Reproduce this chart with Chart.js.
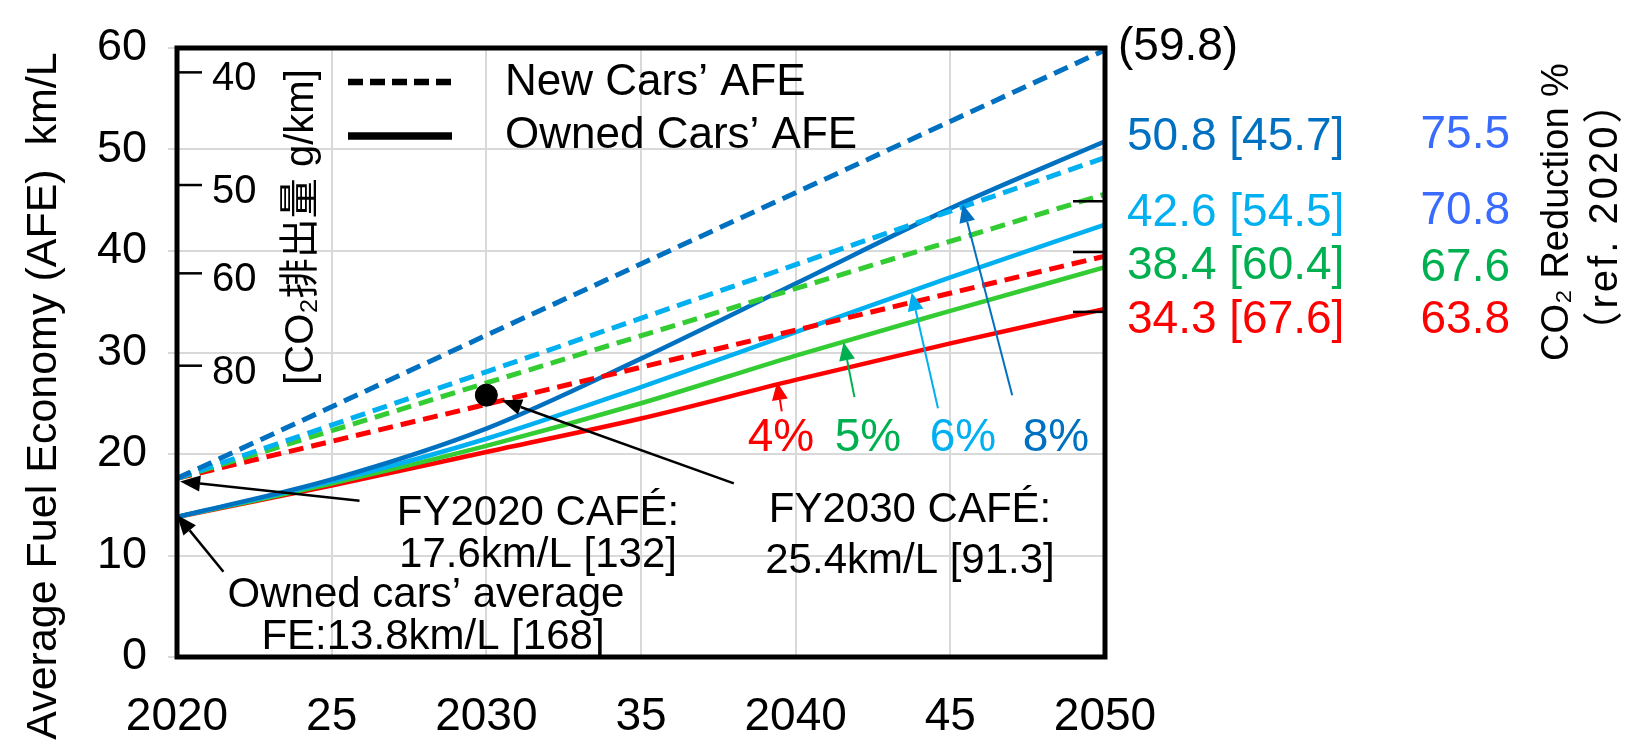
<!DOCTYPE html>
<html>
<head>
<meta charset="utf-8">
<script src="https://cdn.jsdelivr.net/npm/chart.js"></script>
<style>
body { margin: 0; background: #fff; }
canvas { display: block; }
</style>
</head>
<body>
<canvas id="chart-1" width="1633" height="749"></canvas>
<script>
// ---- data ----
var years = [2020, 2025, 2030, 2035, 2040, 2045, 2050];
var new_years = [2020, 2030, 2050];
var x_tick_labels = ['2020', '25', '2030', '35', '2040', '45', '2050'];

// Owned cars' AFE (solid lines), km/L
var owned_8 = [13.8, 17.5, 22.5, 29.4, 36.8, 44.2, 50.8];
var owned_6 = [13.8, 17.3, 21.5, 26.6, 32.0, 37.4, 42.6];
var owned_5 = [13.8, 17.1, 20.8, 25.0, 29.7, 34.1, 38.4];
var owned_4 = [13.8, 16.9, 20.2, 23.5, 27.3, 30.9, 34.3];

// New cars' AFE (dashed lines), km/L
var new_8 = [17.6, 31.7, 59.8];
var new_6 = [17.6, 28.1, 49.2];
var new_5 = [17.6, 27.0, 45.6];
var new_4 = [17.6, 24.9, 39.5];

// FY2030 CAFE point
var cafe_year = [2030];
var cafe_value = [25.8];

// inner CO2 g/km axis: label and the km/L level where it sits
var co2_tick_labels = ['40', '50', '60', '80'];
var co2_tick_at = [57.6, 46.5, 37.8, 28.7];
var right_tick_at = [44.9, 39.9, 34.0];

var end_labels = ['50.8 [45.7]', '42.6 [54.5]', '38.4 [60.4]', '34.3 [67.6]'];
var reduction_labels = ['75.5', '70.8', '67.6', '63.8'];
var rate_labels = ['8%', '6%', '5%', '4%'];

// ---- styles ----
var FONT = "'Liberation Sans', Arial, 'Noto Sans CJK JP', sans-serif";
var c_dark = '#0070C0', c_light = '#00B0F0', c_green = '#33CC33', c_red = '#FF0000';
var c_green_txt = '#00B050', c_blue_txt = '#3A6BFF';
var line_colors = [c_dark, c_light, c_green, c_red];
var text_colors = [c_dark, c_light, c_green_txt, c_red];

function pts(xs, ys) {
    var out = [];
    for (let i = 0; i < xs.length; i++) out.push({ x: xs[i], y: ys[i] });
    return out;
}

function dashed(data, color) {
    return { data: data, borderColor: color, backgroundColor: color, borderWidth: 5,
        borderDash: [15, 8], pointRadius: 0, fill: false, tension: 0 };
}
function solid(data, color) {
    return { data: data, borderColor: color, backgroundColor: color, borderWidth: 4.5,
        pointRadius: 0, fill: false, cubicInterpolationMode: 'monotone' };
}

// ---- drawing helpers for annotations ----
function txt(ctx, s, x, y, size, color, align) {
    ctx.font = size + 'px ' + FONT;
    ctx.fillStyle = color;
    ctx.textAlign = align || 'left';
    ctx.textBaseline = 'alphabetic';
    ctx.fillText(s, x, y);
}
function rot_txt(ctx, s, x, y, size, color, spacing) {
    ctx.save();
    ctx.translate(x, y);
    ctx.rotate(-Math.PI / 2);
    ctx.letterSpacing = spacing || '0px';
    txt(ctx, s, 0, 0, size, color, 'center');
    ctx.restore();
}
function arrow(ctx, x1, y1, x2, y2, color, width, head, half) {
    var a = Math.atan2(y2 - y1, x2 - x1);
    var bx = x2 - head * Math.cos(a), by = y2 - head * Math.sin(a);
    ctx.strokeStyle = color;
    ctx.fillStyle = color;
    ctx.lineWidth = width;
    ctx.setLineDash([]);
    ctx.beginPath();
    ctx.moveTo(x1, y1);
    ctx.lineTo(bx, by);
    ctx.stroke();
    ctx.beginPath();
    ctx.moveTo(x2, y2);
    ctx.lineTo(bx + half * Math.sin(a), by - half * Math.cos(a));
    ctx.lineTo(bx - half * Math.sin(a), by + half * Math.cos(a));
    ctx.closePath();
    ctx.fill();
}

// arrows given in chart units (year, km/L)
var black_arrows = [
    [2025.9, 15.4, 2020.1, 17.3],
    [2021.5, 8.4, 2020.0, 14.0],
    [2038.0, 17.1, 2030.5, 25.3]
];
var rate_arrows = [
    [2047.0, 25.8, 2045.4, 44.6],
    [2044.6, 24.5, 2043.75, 35.9],
    [2041.9, 25.6, 2041.55, 31.0],
    [2039.55, 24.2, 2039.4, 27.1]
];

var annotations = {
    id: 'annotations',
    afterDatasetsDraw: function(chart) {
        var ctx = chart.ctx;
        var xs = chart.scales.x, ys = chart.scales.y;
        var a = chart.chartArea;
        ctx.save();

        // frame
        ctx.strokeStyle = '#000';
        ctx.lineWidth = 5;
        ctx.setLineDash([]);
        ctx.strokeRect(a.left, a.top, a.right - a.left, a.bottom - a.top);

        // inner CO2 axis
        ctx.lineWidth = 2.5;
        for (let i = 0; i < co2_tick_labels.length; i++) {
            var ty = ys.getPixelForValue(co2_tick_at[i]);
            ctx.beginPath();
            ctx.moveTo(a.left, ty);
            ctx.lineTo(a.left + 25, ty);
            ctx.stroke();
            txt(ctx, co2_tick_labels[i], a.left + 35, ty + 18, 40, '#000');
        }
        rot_txt(ctx, '[CO\u2082排出量 g/km]', 313, 227, 40, '#000');

        // small ticks at right edge
        for (let i = 0; i < right_tick_at.length; i++) {
            var ry = ys.getPixelForValue(right_tick_at[i]);
            ctx.strokeStyle = '#000';
            ctx.beginPath();
            ctx.moveTo(a.right - 32, ry);
            ctx.lineTo(a.right, ry);
            ctx.stroke();
        }

        // legend
        ctx.strokeStyle = '#000';
        ctx.lineWidth = 6.5;
        ctx.setLineDash([15, 7]);
        ctx.beginPath();
        ctx.moveTo(348, 82);
        ctx.lineTo(452, 82);
        ctx.stroke();
        ctx.setLineDash([]);
        ctx.lineWidth = 7.5;
        ctx.beginPath();
        ctx.moveTo(348, 136);
        ctx.lineTo(452, 136);
        ctx.stroke();
        txt(ctx, 'New Cars\u2019 AFE', 505, 95, 44, '#000');
        txt(ctx, 'Owned Cars\u2019 AFE', 505, 148, 44, '#000');

        // arrows
        black_arrows.forEach(function(r) {
            arrow(ctx, xs.getPixelForValue(r[0]), ys.getPixelForValue(r[1]),
                xs.getPixelForValue(r[2]), ys.getPixelForValue(r[3]), '#000', 2.5, 20, 8);
        });
        rate_arrows.forEach(function(r, i) {
            arrow(ctx, xs.getPixelForValue(r[0]), ys.getPixelForValue(r[1]),
                xs.getPixelForValue(r[2]), ys.getPixelForValue(r[3]), text_colors[i], 2, 18, 8);
        });

        // rate labels
        var rate_x = [1056, 963, 868, 781];
        for (let i = 0; i < rate_labels.length; i++) {
            txt(ctx, rate_labels[i], rate_x[i], 451, 46, text_colors[i], 'center');
        }

        // notes
        txt(ctx, 'FY2020 CAF\u00c9:', 538, 525, 42, '#000', 'center');
        txt(ctx, '17.6km/L [132]', 538, 567, 42, '#000', 'center');
        txt(ctx, 'Owned cars\u2019 average', 426, 607, 42, '#000', 'center');
        txt(ctx, 'FE:13.8km/L [168]', 433, 649, 42, '#000', 'center');
        txt(ctx, 'FY2030 CAF\u00c9:', 910, 522, 42, '#000', 'center');
        txt(ctx, '25.4km/L [91.3]', 910, 573, 42, '#000', 'center');

        // right side values
        txt(ctx, '(59.8)', 1118, 60, 46, '#000');
        var end_y = [150, 226, 279, 333];
        var red_y = [148, 224, 281, 333];
        var red_colors = [c_blue_txt, c_blue_txt, c_green_txt, c_red];
        for (let i = 0; i < end_labels.length; i++) {
            txt(ctx, end_labels[i], 1127, end_y[i], 46, text_colors[i]);
            txt(ctx, reduction_labels[i], 1510, red_y[i], 46, red_colors[i], 'right');
        }
        rot_txt(ctx, 'CO\u2082 Reduction %', 1568, 212, 38, '#000');
        rot_txt(ctx, '\uff08ref. 2020\uff09', 1617, 216, 40, '#000', '3px');

        // y axis title
        rot_txt(ctx, 'Average Fuel Economy (AFE)  km/L', 56, 396, 43, '#000');

        ctx.restore();
    }
};

const ctx = document.getElementById('chart-1').getContext('2d');
const myChart = new Chart(ctx, {
    type: 'line',
    data: {
        datasets: [
            { data: pts(cafe_year, cafe_value), showLine: false, pointRadius: 11,
              pointBackgroundColor: '#000', pointBorderColor: '#000', borderColor: '#000' },
            dashed(pts(new_years, new_8), c_dark),
            dashed(pts(new_years, new_6), c_light),
            dashed(pts(new_years, new_5), c_green),
            dashed(pts(new_years, new_4), c_red),
            solid(pts(years, owned_8), c_dark),
            solid(pts(years, owned_6), c_light),
            solid(pts(years, owned_5), c_green),
            solid(pts(years, owned_4), c_red),
        ],
    },
    options: {
        responsive: false,
        animation: false,
        devicePixelRatio: 1,
        layout: { padding: { left: 0, top: 42, right: 528, bottom: 0 } },
        plugins: {
            legend: { display: false },
            tooltip: { enabled: false },
        },
        scales: {
            x: {
                type: 'linear',
                min: 2020,
                max: 2050,
                afterFit: function(s) { s.height = 92; },
                grid: { color: '#D9D9D9', lineWidth: 2, drawTicks: false },
                border: { display: false },
                ticks: {
                    stepSize: 5,
                    padding: 33,
                    color: '#000',
                    font: { size: 46, family: FONT },
                    maxRotation: 0,
                    callback: function(v, i) { return x_tick_labels[i]; },
                },
            },
            y: {
                min: 0,
                max: 60,
                afterFit: function(s) { s.width = 177; },
                grid: { color: '#D9D9D9', lineWidth: 2, tickLength: 9 },
                border: { display: false },
                ticks: {
                    stepSize: 10,
                    padding: 21,
                    color: '#000',
                    font: { size: 45, family: FONT },
                },
            },
        },
    },
    plugins: [annotations],
});
</script>
</body>
</html>
